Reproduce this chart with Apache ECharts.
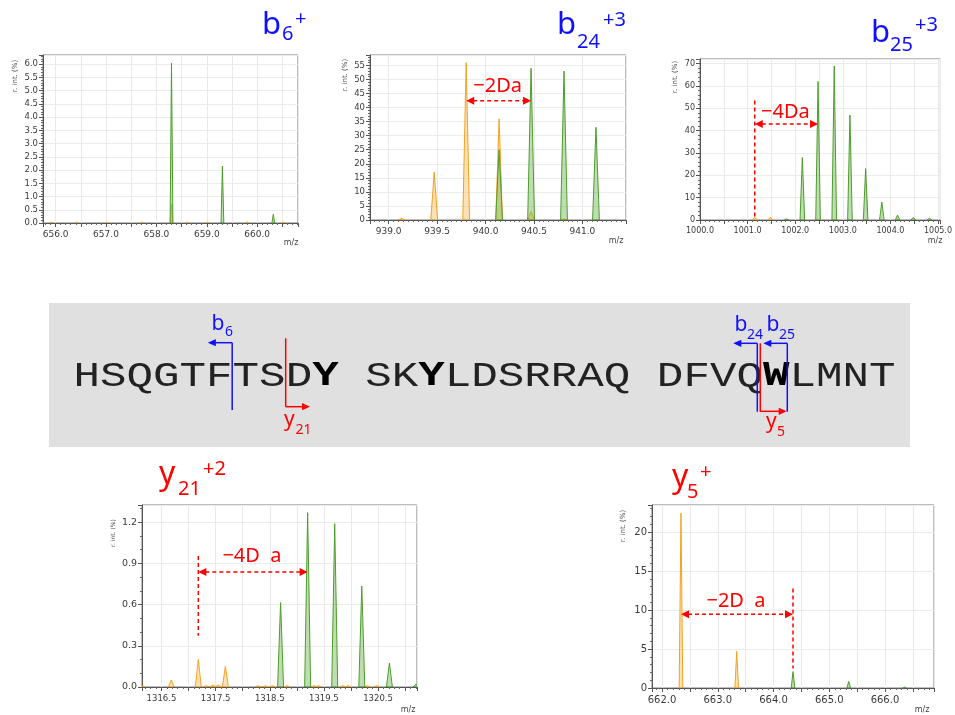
<!DOCTYPE html>
<html>
<head>
<meta charset="utf-8">
<script src="https://cdn.jsdelivr.net/npm/echarts@6/dist/echarts.min.js"></script>
<style>
  html, body { margin: 0; padding: 0; background: #ffffff; }
  #main { width: 955px; height: 715px; }
</style>
</head>
<body>
<div id="main"></div>
<script>
// ---------------- spectra: peak centroids (m/z) and relative intensity (%) ----------------
// b6 (1+)
const b6MzGreen  = [658.30, 659.31, 660.32];
const b6IntGreen = [6.05, 2.15, 0.33];
const b6MzOrange  = [655.92, 656.42, 657.02, 657.72, 658.30, 658.62, 659.02, 659.80, 660.52];
const b6IntOrange = [0.03, 0.04, 0.03, 0.04, 0.70, 0.03, 0.03, 0.05, 0.03];
const b6XLabels = [656.0, 657.0, 658.0, 659.0, 660.0];
const b6YLabels = [0.0, 0.5, 1.0, 1.5, 2.0, 2.5, 3.0, 3.5, 4.0, 4.5, 5.0, 5.5, 6.0];

// b24 (3+)
const b24MzGreen  = [940.14, 940.47, 940.81, 941.14];
const b24IntGreen = [25, 54, 53, 33];
const b24MzOrange  = [939.13, 939.47, 939.80, 940.14, 940.47, 940.81];
const b24IntOrange = [0.6, 17, 56, 36, 3, 0.4];
const b24XLabels = [939.0, 939.5, 940.0, 940.5, 941.0];
const b24YLabels = [0, 5, 10, 15, 20, 25, 30, 35, 40, 45, 50, 55];

// b25 (3+)
const b25MzGreen  = [1001.82, 1002.15, 1002.48, 1002.82, 1003.15, 1003.48, 1003.82, 1004.15, 1004.48, 1004.82];
const b25IntGreen = [0.5, 28, 62, 69, 47, 23, 8, 2.2, 1.2, 0.8];
const b25MzOrange  = [1001.15, 1001.48];
const b25IntOrange = [1.3, 1.3];
const b25XLabels = [1000.0, 1001.0, 1002.0, 1003.0, 1004.0, 1005.0];
const b25YLabels = [0, 10, 20, 30, 40, 50, 60, 70];

// y21 (2+)
const y21MzGreen  = [1318.70, 1319.20, 1319.70, 1320.20, 1320.71, 1321.20];
const y21IntGreen = [0.615, 1.27, 1.19, 0.735, 0.175, 0.02];
const y21MzOrange  = [1316.15, 1316.68, 1317.18, 1317.33, 1317.45, 1317.55, 1317.68, 1318.28, 1318.42, 1318.55, 1318.82, 1319.32, 1319.40, 1319.85, 1319.95, 1320.30, 1320.48];
const y21IntOrange = [0.01, 0.05, 0.20, 0.01, 0.015, 0.015, 0.15, 0.01, 0.01, 0.01, 0.01, 0.01, 0.01, 0.01, 0.01, 0.01, 0.01];
const y21XLabels = [1316.5, 1317.5, 1318.5, 1319.5, 1320.5];
const y21YLabels = [0.0, 0.3, 0.6, 0.9, 1.2];

// y5 (1+)
const y5MzGreen  = [664.35, 665.35, 666.35];
const y5IntGreen = [2.1, 0.85, 0.12];
const y5MzOrange  = [662.34, 663.34];
const y5IntOrange = [22.4, 4.7];
const y5XLabels = [662.0, 663.0, 664.0, 665.0, 666.0];
const y5YLabels = [0, 5, 10, 15, 20];

// ---------------- peptide ----------------
const sequenceText = 'HSQGTFTSDY SKYLDSRRAQ DFVQWLMNT';
const boldResidues = [9, 13, 26];

// ---------------- panel layout ----------------
const GREEN = '#4e9d2d';
const GREEN_FILL = 'rgba(110,180,80,0.45)';
const ORANGE = '#f5a11f';
const ORANGE_FILL = 'rgba(250,190,90,0.45)';
const RED = '#ff0000';
const BLUE = '#1010ff';

const panels = [
  { left: 43, top: 55, width: 255, height: 168, xMin: 655.75, xMax: 660.81, xSplit: 10, xMinor: 5,
    yMax: 6.35, yInterval: 0.5, yMinor: 5, yDigits: 1, xFont: 9, yFont: 8.5, hw: 1.4,
    xLabels: b6XLabels, yLabels: b6YLabels,
    green: [b6MzGreen, b6IntGreen], orange: [b6MzOrange, b6IntOrange],
    yName: [15, 76, 7], mz: [291, 243] },
  { left: 370, top: 55, width: 256, height: 165, xMin: 938.807, xMax: 941.45, xSplit: 5, xMinor: 10,
    yMax: 58.7, yInterval: 5, yMinor: 5, yDigits: 0, xFont: 9, yFont: 8.5, hw: 3.4,
    xLabels: b24XLabels, yLabels: b24YLabels,
    green: [b24MzGreen, b24IntGreen], orange: [b24MzOrange, b24IntOrange],
    yName: [345, 75, 7], mz: [616, 241] },
  { left: 700, top: 59, width: 244, height: 161, xMin: 1000.0, xMax: 1005.05, xSplit: 10, xMinor: 5,
    yMax: 72.1, yInterval: 10, yMinor: 5, yDigits: 0, xFont: 8, yFont: 8, hw: 2.3,
    xLabels: b25XLabels, yLabels: b25YLabels,
    green: [b25MzGreen, b25IntGreen], orange: [b25MzOrange, b25IntOrange],
    yName: [675, 77, 7], mz: [935, 241] },
  { left: 142, top: 505, width: 275, height: 182, xMin: 1316.14, xMax: 1321.22, xSplit: 10, xMinor: 5,
    yMax: 1.326, yInterval: 0.3, yMinor: 3, yDigits: 1, xFont: 8.5, yFont: 9.5, hw: 3.0,
    xLabels: y21XLabels, yLabels: y21YLabels,
    green: [y21MzGreen, y21IntGreen], orange: [y21MzOrange, y21IntOrange],
    yName: [113, 533, 6], mz: [408, 710] },
  { left: 652, top: 505, width: 282, height: 183, xMin: 661.82, xMax: 666.88, xSplit: 10, xMinor: 5,
    yMax: 23.46, yInterval: 5, yMinor: 5, yDigits: 0, xFont: 10, yFont: 10, hw: 1.8,
    xLabels: y5XLabels, yLabels: y5YLabels,
    green: [y5MzGreen, y5IntGreen], orange: [y5MzOrange, y5IntOrange],
    yName: [623, 526, 7], mz: [922, 710] }
];

// mass-shift arrows drawn inside the spectra (data coordinates)
const shifts = [
  { grid: 1, from: 939.80, to: 940.47, y: 42.4, text: '\u22122Da', lift: 14 },
  { grid: 2, from: 1001.15, to: 1002.48, y: 43, text: '\u22124Da', lift: 11 },
  { grid: 3, from: 1317.18, to: 1319.20, y: 0.838, text: '\u22124D  a', lift: 15, vline: [1317.18, 0.954, 0.373] },
  { grid: 4, from: 662.34, to: 664.35, y: 9.45, text: '\u22122D  a', lift: 12, vline: [664.35, 12.74, 2.49] }
];
shifts[1].vline = [1001.15, 53.5, 1.5];

// ---------------- helpers ----------------
const SANS = "'Noto Sans', 'Open Sans', sans-serif";
const K_NOTO = 0.388;   // canvas 'middle' offset above baseline (em)
function inList(list, v) { return list.some(l => Math.abs(l - v) < 1e-6); }

function peakSeries(idx, mzArr, intArr, stroke, fill, hw, z) {
  return {
    type: 'custom',
    xAxisIndex: idx, yAxisIndex: idx,
    clip: true, silent: true, z: z,
    data: mzArr.map((m, i) => [m, intArr[i]]),
    renderItem: function (params, api) {
      const apex = api.coord([api.value(0), api.value(1)]);
      const foot = api.coord([api.value(0), 0]);
      return {
        type: 'polygon',
        shape: { points: [[foot[0] - hw, foot[1]], [apex[0], apex[1]], [foot[0] + hw, foot[1]]] },
        style: { fill: fill, stroke: stroke, lineWidth: 1 }
      };
    }
  };
}

const grids = [], xAxes = [], yAxes = [], series = [];
panels.forEach((p, i) => {
  grids.push({ left: p.left, top: p.top, width: p.width, height: p.height,
    show: true, borderColor: '#7a7a7a', borderWidth: 1, backgroundColor: '#ffffff', containLabel: false });
  xAxes.push({
    type: 'value', gridIndex: i, min: p.xMin, max: p.xMax, splitNumber: p.xSplit,
    axisLine: { show: true, onZero: false, lineStyle: { color: '#555', width: 1 } },
    axisTick: { show: true, length: 4, lineStyle: { color: '#555' } },
    minorTick: { show: true, splitNumber: p.xMinor, length: 2, lineStyle: { color: '#666' } },
    splitLine: { show: true, lineStyle: { color: '#e9e9e9', width: 1 } },
    axisLabel: { color: '#3a3a3a', fontSize: p.xFont, fontFamily: "'DejaVu Sans', sans-serif", margin: 7,
      showMinLabel: true, showMaxLabel: true, hideOverlap: false,
      formatter: v => inList(p.xLabels, v) ? v.toFixed(1) : '' }
  });
  yAxes.push({
    type: 'value', gridIndex: i, min: 0, max: p.yMax, interval: p.yInterval,
    axisLine: { show: true, lineStyle: { color: '#555', width: 1 } },
    axisTick: { show: true, length: 4, lineStyle: { color: '#555' } },
    minorTick: { show: true, splitNumber: p.yMinor, length: 2, lineStyle: { color: '#666' } },
    splitLine: { show: true, lineStyle: { color: '#ececec', width: 1 } },
    axisLabel: { color: '#3a3a3a', fontSize: p.yFont, fontFamily: "'DejaVu Sans', sans-serif", margin: 5,
      formatter: v => inList(p.yLabels, v) ? v.toFixed(p.yDigits) : '' }
  });
  series.push(peakSeries(i, p.orange[0], p.orange[1], ORANGE, ORANGE_FILL, p.hw, 2));
  series.push(peakSeries(i, p.green[0], p.green[1], GREEN, GREEN_FILL, p.hw, 3));
});

const chart = echarts.init(document.getElementById('main'), null, { renderer: 'canvas' });
chart.setOption({
  animation: false,
  backgroundColor: '#ffffff',
  grid: grids, xAxis: xAxes, yAxis: yAxes, series: series
});

// ---------------- graphics: titles, sequence map, annotations ----------------
const g = [];
function txt(x, baseline, str, size, color, opts) {
  opts = opts || {};
  const k = opts.k !== undefined ? opts.k : K_NOTO;
  g.push({
    type: 'text', x: x, y: baseline - k * size, z: 100, silent: true,
    rotation: opts.rotation || 0,
    style: { text: str, fill: color, fontSize: size, fontFamily: opts.family || SANS,
      fontWeight: opts.weight || 'normal', textAlign: opts.align || 'left', textVerticalAlign: 'middle' }
  });
}
function line(x1, y1, x2, y2, color, width, dash) {
  g.push({ type: 'line', z: 100, silent: true, shape: { x1: x1, y1: y1, x2: x2, y2: y2 },
    style: { stroke: color, lineWidth: width, lineDash: dash || null } });
}
function head(tipX, tipY, dir, color, len, half) {
  // dir: +1 points right, -1 points left
  g.push({ type: 'polygon', z: 101, silent: true,
    shape: { points: [[tipX, tipY], [tipX - dir * len, tipY - half], [tipX - dir * len, tipY + half]] },
    style: { fill: color } });
}

// spectrum titles: main letter, subscript, charge
function title(color, main, sub, sup) {
  txt(main[0], main[1], main[2], main[3], color);
  txt(sub[0], sub[1], sub[2], sub[3], color);
  txt(sup[0], sup[1], sup[2], sup[3], color);
}
title(BLUE, [262, 37, 'b', 31], [282, 42, '6', 20], [295, 27, '+', 20]);
title(BLUE, [557, 37, 'b', 31], [577, 50, '24', 20], [603, 28, '+3', 20]);
title(BLUE, [871, 45, 'b', 31], [890, 53, '25', 20], [915, 33, '+3', 20]);
title(RED,  [159, 487, 'y', 32], [178, 497, '21', 20], [203, 477, '+2', 20]);
title(RED,  [672, 490, 'y', 32], [687, 500, '5', 20], [700, 480, '+', 20]);

// axis captions
panels.forEach(p => {
  txt(p.yName[0], p.yName[1], 'r. int. (%)', p.yName[2], '#444', { k: 0, rotation: Math.PI / 2, align: 'center', family: "'DejaVu Sans', sans-serif" });
  txt(p.mz[0], p.mz[1], 'm/z', 8, '#444', { k: 0, align: 'center', family: "'DejaVu Sans', sans-serif" });
});

// peptide sequence box
g.push({ type: 'rect', z: 90, silent: true, shape: { x: 49, y: 303, width: 861, height: 144 }, style: { fill: '#e0e0e0' } });
const CELL = 26.5, SEQ_X = 73.5, SEQ_BASE = 386, SEQ_SIZE = 44.2;
let rich = '';
let run = '';
for (let i = 0; i < sequenceText.length; i++) {
  if (boldResidues.indexOf(i) >= 0) {
    if (run) { rich += '{n|' + run + '}'; run = ''; }
    rich += '{b|' + sequenceText[i] + '}';
  } else run += sequenceText[i];
}
if (run) rich += '{n|' + run + '}';
const MONO = "'Liberation Mono', 'Courier New', monospace";
g.push({
  type: 'text', x: SEQ_X, y: SEQ_BASE, scaleY: 0.8, originX: 0, originY: 0, z: 100, silent: true,
  style: {
    x: 0, y: -0.2665 * SEQ_SIZE,
    text: rich, textAlign: 'left', textVerticalAlign: 'middle',
    fontFamily: MONO, fontSize: SEQ_SIZE, fill: '#222',
    rich: {
      n: { fontFamily: MONO, fontSize: SEQ_SIZE, fill: '#222', color: '#222' },
      b: { fontFamily: MONO, fontSize: SEQ_SIZE, fontWeight: 'bold', fill: '#000', color: '#000' }
    }
  }
});

// cleavage markers: position from residue boundary
function cut(boundary, offset, color, y1, y2, arrowY, dir, len) {
  const x = SEQ_X + boundary * CELL + offset;
  line(x, y1, x, y2, color, 1.5);
  const tip = x + dir * len;
  line(x, arrowY, tip - dir * 6, arrowY, color, 1.5);
  head(tip, arrowY, dir, color, 8, 3.6);
}
cut(6, -0.3, BLUE, 342.7, 410, 342.7, -1, 24.4);
cut(8, 0.2, RED, 338.3, 406.7, 406.7, 1, 24.3);
cut(26, -5.2, BLUE, 343.3, 411.7, 343.3, -1, 24);
cut(26, -2.2, RED, 343.3, 411.7, 411.3, 1, 26.4);
cut(27, -1.7, BLUE, 343.3, 411.7, 343.3, -1, 24);
// marker labels
txt(211.5, 332, 'b', 21, BLUE); txt(225, 337, '6', 14, BLUE);
txt(284, 428, 'y', 21, RED);    txt(295.5, 435, '21', 14, RED);
txt(734.5, 333.5, 'b', 21, BLUE); txt(747, 340.5, '24', 14, BLUE);
txt(766.5, 333.5, 'b', 21, BLUE); txt(779, 340.5, '25', 14, BLUE);
txt(766, 430, 'y', 21, RED);    txt(777, 437.5, '5', 14, RED);

// mass-shift annotations, placed through the grids' coordinate systems
shifts.forEach(s => {
  const a = chart.convertToPixel({ gridIndex: s.grid }, [s.from, s.y]);
  const b = chart.convertToPixel({ gridIndex: s.grid }, [s.to, s.y]);
  line(a[0] + 7, a[1], b[0] - 7, b[1], RED, 1.5, [4, 3]);
  head(a[0], a[1], -1, RED, 8, 4);
  head(b[0], b[1], 1, RED, 8, 4);
  txt((a[0] + b[0]) / 2 - 1, a[1] - s.lift + 7, s.text, 20, RED, { align: 'center' });
  if (s.vline) {
    const t = chart.convertToPixel({ gridIndex: s.grid }, [s.vline[0], s.vline[1]]);
    const u = chart.convertToPixel({ gridIndex: s.grid }, [s.vline[0], s.vline[2]]);
    line(t[0], t[1], u[0], u[1], RED, 1.5, [4, 3]);
  }
});

chart.setOption({ graphic: g });
</script>
</body>
</html>
